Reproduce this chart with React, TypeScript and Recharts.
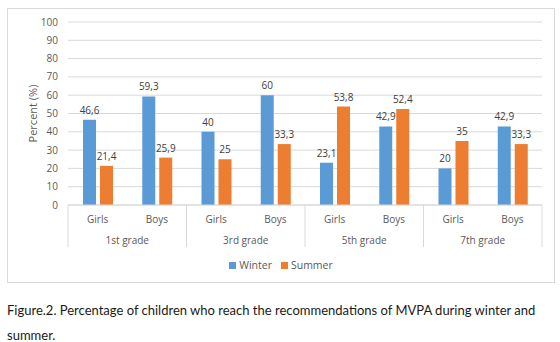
import React from 'react';
import { BarChart, Bar, XAxis, YAxis, CartesianGrid, Legend, LabelList } from 'recharts';

const grades = ['1st grade', '1st grade', '3rd grade', '3rd grade', '5th grade', '5th grade', '7th grade', '7th grade'];
const genders = ['Girls', 'Boys', 'Girls', 'Boys', 'Girls', 'Boys', 'Girls', 'Boys'];
const winter = [46.6, 59.3, 40, 60, 23.1, 42.9, 20, 42.9];
const summer = [21.4, 25.9, 25, 33.3, 53.8, 52.4, 35, 33.3];
const yTicks = [0, 10, 20, 30, 40, 50, 60, 70, 80, 90, 100];

const data = genders.map((g, i) => ({ key: `${grades[i]}|${g}`, gender: g, grade: grades[i], winter: winter[i], summer: summer[i] }));

const FONT = '"Open Sans", sans-serif';
const GRAY = '#595959';
const LINE = '#d9d9d9';

const fmt = (v: any) => String(v).replace('.', ',');

const XTick = (props: any) => {
  const { x, y, payload, index } = props;
  const half = payload && typeof payload.offset === 'number' && payload.offset > 0 ? payload.offset : 29.6;
  const d = data[index];
  const els: any[] = [];
  els.push(
    <text key="g" x={x} y={y + 14} textAnchor="middle" dominantBaseline="central" fill={GRAY} fontSize={10} fontFamily={FONT}>
      {d.gender}
    </text>
  );
  if (index % 2 === 0) {
    els.push(<line key="l" x1={x - half} x2={x - half} y1={y} y2={y + 42} stroke={LINE} strokeWidth={1} />);
    els.push(
      <text key="gr" x={x + half} y={y + 35} textAnchor="middle" dominantBaseline="central" fill={GRAY} fontSize={10} fontFamily={FONT}>
        {d.grade}
      </text>
    );
  }
  if (index === data.length - 1) {
    els.push(<line key="r" x1={x + half} x2={x + half} y1={y} y2={y + 42} stroke={LINE} strokeWidth={1} />);
  }
  return <g>{els}</g>;
};

const YLabel = (props: any) => {
  const vb = props.viewBox || {};
  const cx = 24;
  const cy = (vb.y || 0) + (vb.height || 0) / 2;
  return (
    <text x={cx} y={cy} transform={`rotate(-90, ${cx}, ${cy})`} textAnchor="middle" dominantBaseline="central" fill={GRAY} fontSize={11} fontFamily={FONT}>
      Percent (%)
    </text>
  );
};

const legendRank = (v: string) => (v === 'Winter' ? 0 : 1);

const LegendContent = (props: any) => {
  const items = [...(props.payload || [])].sort((a: any, b: any) => legendRank(a.value) - legendRank(b.value));
  return (
    <div style={{ display: 'flex', justifyContent: 'center', alignItems: 'center', gap: 9 }}>
      {items.map((it: any) => (
        <div key={it.value} style={{ display: 'flex', alignItems: 'center', gap: 3 }}>
          <span style={{ display: 'inline-block', width: 7, height: 7, background: it.color }} />
          <span style={{ color: GRAY, fontFamily: FONT, fontSize: 10.5, lineHeight: '14px' }}>{it.value}</span>
        </div>
      ))}
    </div>
  );
};

export default function App() {
  return (
    <div style={{ position: 'absolute', left: 0, top: 0, width: 560, height: 342, background: '#fff' }}>
      <div style={{ position: 'absolute', left: 7, top: 8, width: 548, height: 275, border: `1px solid ${LINE}`, boxSizing: 'border-box' }}>
        <BarChart
          width={546}
          height={273}
          data={data}
          margin={{ top: 13, right: 12, bottom: 0, left: 20 }}
          barGap={4}
          barSize={13}
        >
          <CartesianGrid vertical={false} stroke={LINE} strokeWidth={1} />
          <XAxis
            dataKey="key"
            interval={0}
            tickLine={false}
            tickSize={0}
            tickMargin={0}
            axisLine={{ stroke: LINE }}
            tick={<XTick />}
            height={77}
          />
          <YAxis
            domain={[0, 100]}
            ticks={yTicks}
            interval={0}
            width={40}
            axisLine={false}
            tickLine={false}
            tickMargin={4}
            tick={{ fill: GRAY, fontSize: 10, fontFamily: FONT }}
            label={{ content: <YLabel /> }}
          />
          <Legend
            layout="horizontal"
            verticalAlign="middle"
            align="center"
            content={<LegendContent />}
            wrapperStyle={{ top: 249, bottom: 'auto', left: 0, width: 546 }}
          />
          <Bar dataKey="winter" name="Winter" fill="#5B9BD5" isAnimationActive={false}>
            <LabelList dataKey="winter" position="top" offset={6} formatter={fmt} fill="#404040" fontSize={10} fontFamily={FONT} />
          </Bar>
          <Bar dataKey="summer" name="Summer" fill="#ED7D31" isAnimationActive={false}>
            <LabelList dataKey="summer" position="top" offset={6} formatter={fmt} fill="#404040" fontSize={10} fontFamily={FONT} />
          </Bar>
        </BarChart>
      </div>
      <div style={{ position: 'absolute', left: 7, top: 298, width: 553, fontFamily: 'Lato, sans-serif', fontSize: 13, lineHeight: '25px', color: '#1a1a1a' }}>
        Figure.2. Percentage of children who reach the recommendations of MVPA during winter and summer.
      </div>
    </div>
  );
}
